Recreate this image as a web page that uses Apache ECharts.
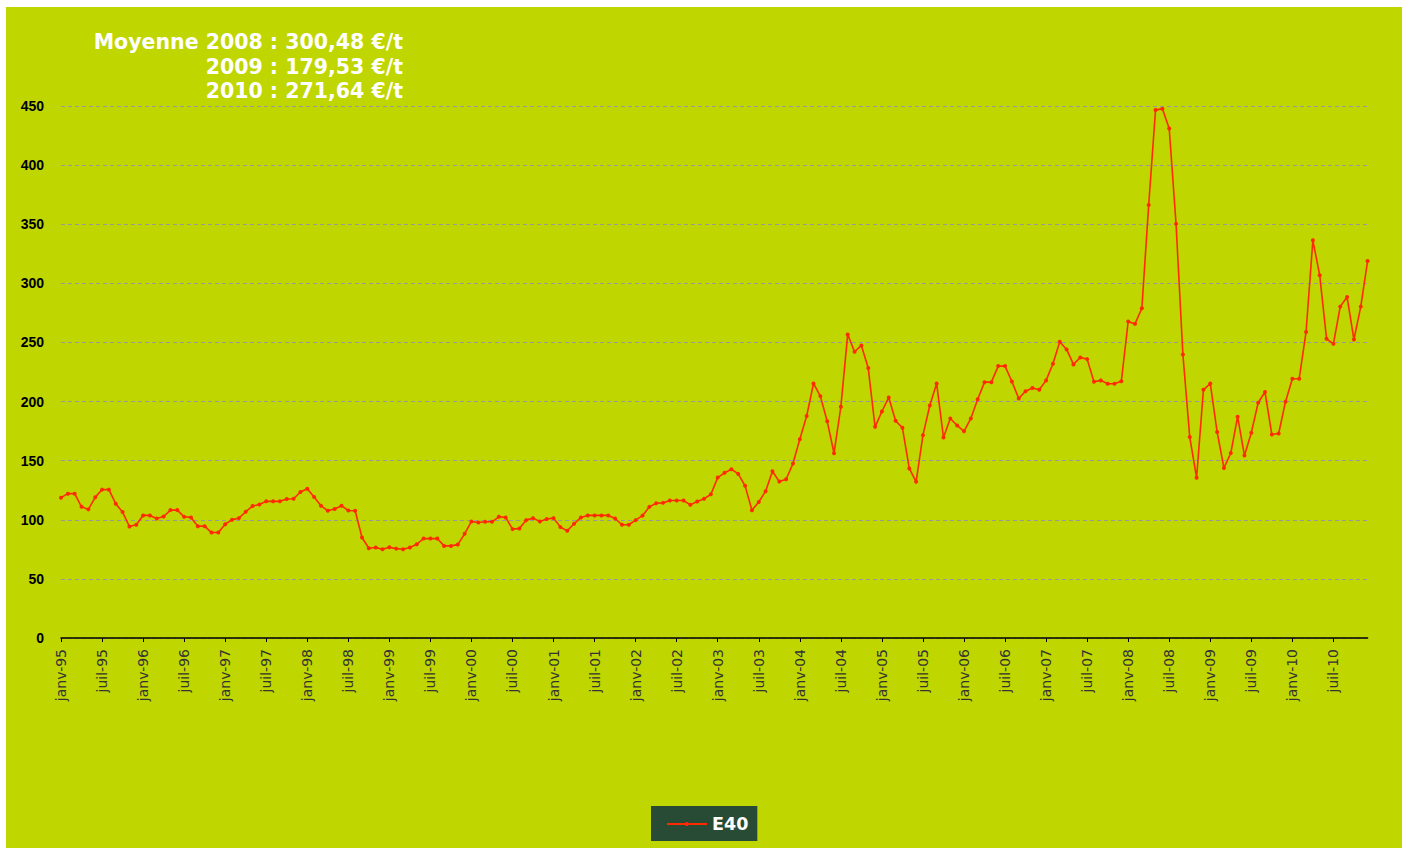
<!DOCTYPE html>
<html>
<head>
<meta charset="utf-8">
<script src="https://cdn.jsdelivr.net/npm/echarts@6/dist/echarts.min.js"></script>
<style>
html,body{margin:0;padding:0;background:#ffffff;width:1410px;height:848px;overflow:hidden;}
#chart{position:absolute;left:6px;top:7px;width:1396px;height:841px;background:#bfd600;}
</style>
</head>
<body>
<div id="chart"></div>
<script>
// Month names (French, Excel style) and years for the category labels
const monthNames = ["janv","févr","mars","avr","mai","juin","juil","août","sept","oct","nov","déc"];
const years = ["95","96","97","98","99","00","01","02","03","04","05","06","07","08","09","10"];
const categories = [];
years.forEach(y => monthNames.forEach(m => categories.push(m + "-" + y)));

// E40 prices (€/t), janv-95 .. déc-10
const e40 = [
  118.7,122.1,122.1,111.0,108.8,119.0,125.5,125.5,113.6,106.5,94.3,95.8,
  103.7,103.7,101.1,102.8,108.2,108.2,102.5,102.0,94.6,94.6,89.2,89.2,
  96.3,100.0,101.4,106.8,111.6,113.0,115.6,115.6,115.6,117.6,117.8,123.5,
  126.3,119.3,111.9,107.6,109.1,111.9,107.8,107.6,85.0,75.9,76.5,75.1,
  76.8,75.6,75.1,76.5,79.3,84.1,84.1,84.1,77.9,77.9,79.0,88.1,
  98.6,97.7,98.3,98.3,102.5,102.0,92.1,92.6,99.7,101.4,98.6,100.6,
  101.4,93.8,90.7,96.6,102.0,103.7,103.7,103.7,103.7,101.1,95.8,95.8,
  99.7,103.5,110.9,114.0,114.3,116.3,116.3,116.3,112.6,115.4,117.7,121.6,
  135.7,139.7,142.8,138.8,128.7,108.1,115.1,124.2,141.1,132.3,134.3,147.6,
  168.2,187.7,215.3,204.6,183.4,156.3,195.6,256.8,242.1,247.5,228.3,178.6,
  191.6,203.5,183.7,177.8,143.4,132.1,171.6,196.7,215.3,169.6,185.7,179.8,
  174.8,185.7,202.0,216.4,216.4,230.0,230.0,217.0,202.6,208.8,211.4,210.0,
  217.9,232.0,250.6,244.1,231.4,237.3,235.9,216.7,217.9,215.0,215.0,217.2,
  267.7,265.7,278.9,366.3,446.7,447.6,431.0,350.3,239.8,170.0,135.6,209.9,
  215.3,174.3,143.8,156.4,187.2,154.3,173.7,199.0,208.1,172.1,173.0,199.9,
  219.3,219.3,258.8,336.4,306.8,253.1,248.8,280.3,288.4,252.5,280.3,318.9
];

const seriesName = "E40";
const noteLines = ["Moyenne 2008 : 300,48 €/t", "2009 : 179,53 €/t", "2010 : 271,64 €/t"];
const yTicks = {min: 0, max: 450, interval: 50};

const chart = echarts.init(document.getElementById('chart'), null, {renderer: 'svg'});
const option = {
  animation: false,
  backgroundColor: '#bfd600',
  grid: {left: 55, top: 99, width: 1306.6, height: 532, containLabel: false},
  graphic: noteLines.map((t, i) => ({
    type: 'text',
    x: 397,
    y: 35 + i * 24.5,
    style: {
      text: t,
      align: 'right',
      verticalAlign: 'middle',
      fill: '#ffffff',
      font: 'bold 20.5px "DejaVu Sans", sans-serif'
    }
  })),
  legend: {
    data: [seriesName],
    left: 645,
    top: 799,
    backgroundColor: '#284b35',
    padding: [9, 9, 8, 15],
    itemWidth: 40,
    itemHeight: 5,
    itemGap: 0,
    textStyle: {color: '#ffffff', fontWeight: 'bold', fontSize: 17.5, fontFamily: '"DejaVu Sans", sans-serif'}
  },
  xAxis: {
    type: 'category',
    data: categories,
    boundaryGap: false,
    axisLine: {show: true, lineStyle: {color: '#000000', width: 1.5}},
    axisTick: {show: true, interval: 5, length: 4, lineStyle: {color: '#000000', width: 1}},
    axisLabel: {
      interval: 5,
      rotate: 90,
      margin: 11,
      color: '#333333',
      fontSize: 14,
      fontFamily: '"DejaVu Sans", sans-serif'
    },
    splitLine: {show: false}
  },
  yAxis: {
    type: 'value',
    min: yTicks.min,
    max: yTicks.max,
    interval: yTicks.interval,
    axisLine: {show: false},
    axisTick: {show: false},
    axisLabel: {
      margin: 17,
      color: '#000000',
      fontWeight: 'bold',
      fontSize: 14,
      fontFamily: '"Liberation Sans", Arial, sans-serif'
    },
    splitLine: {show: true, lineStyle: {color: '#999999', type: [4, 3], width: 1}}
  },
  series: [{
    name: seriesName,
    type: 'line',
    data: e40,
    symbol: 'circle',
    symbolSize: 4,
    showAllSymbol: true,
    lineStyle: {color: '#ff2a00', width: 1.6},
    itemStyle: {color: '#ff2a00'}
  }]
};
chart.setOption(option);
</script>
</body>
</html>
